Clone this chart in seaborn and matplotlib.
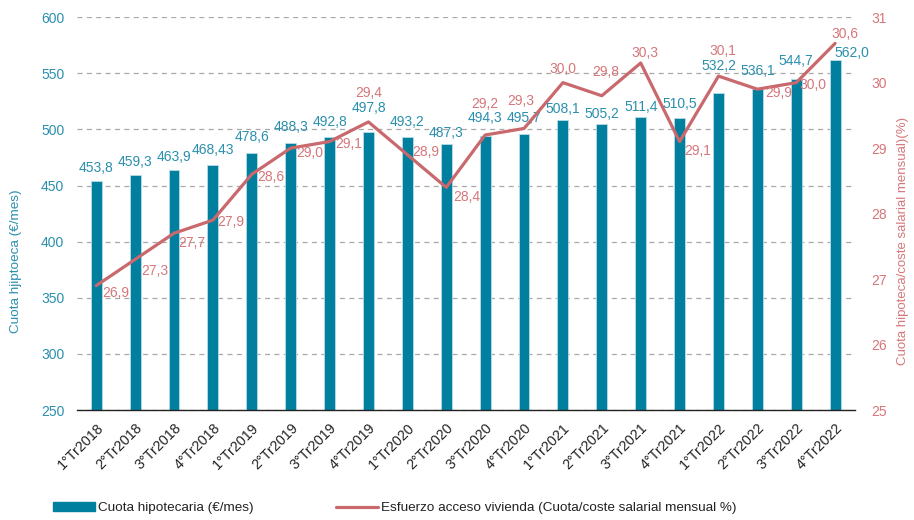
import numpy as np
import pandas as pd
import matplotlib
matplotlib.use("Agg")
import matplotlib.pyplot as plt
from matplotlib.patches import Patch
from matplotlib.lines import Line2D
import seaborn as sns

# Quarterly mortgage payment and affordability effort
quarters = ["1°Tr2018", "2°Tr2018", "3°Tr2018", "4°Tr2018",
            "1°Tr2019", "2°Tr2019", "3°Tr2019", "4°Tr2019",
            "1°Tr2020", "2°Tr2020", "3°Tr2020", "4°Tr2020",
            "1°Tr2021", "2°Tr2021", "3°Tr2021", "4°Tr2021",
            "1°Tr2022", "2°Tr2022", "3°Tr2022", "4°Tr2022"]
cuota = [453.8, 459.3, 463.9, 468.43, 478.6, 488.3, 492.8, 497.8,
         493.2, 487.3, 494.3, 495.7, 508.1, 505.2, 511.4, 510.5,
         532.2, 536.1, 544.7, 562.0]
cuota_labels = ["453,8", "459,3", "463,9", "468,43", "478,6", "488,3", "492,8", "497,8",
                "493,2", "487,3", "494,3", "495,7", "508,1", "505,2", "511,4", "510,5",
                "532,2", "536,1", "544,7", "562,0"]
esfuerzo = [26.9, 27.3, 27.7, 27.9, 28.6, 29.0, 29.1, 29.4,
            28.9, 28.4, 29.2, 29.3, 30.0, 29.8, 30.3, 29.1,
            30.1, 29.9, 30.0, 30.6]

BAR = "#007f9e"
BAR_EDGE = "#b9dce6"
LINE = "#c9686d"
TEAL_TXT = "#2a8fad"
PINK_TXT = "#d6767a"
GRID = "#a8a8a8"

sns.set_theme(style="white")
plt.rcParams["font.family"] = ["Liberation Sans", "DejaVu Sans"]

df = pd.DataFrame({"trimestre": quarters, "cuota": cuota, "esfuerzo": esfuerzo})
df["pos"] = np.arange(len(df))

fig = plt.figure(figsize=(9.14, 5.2), dpi=100)
ax = fig.add_axes([0.084, 0.2115, 0.851, 0.7555])

sns.barplot(data=df, x="trimestre", y="cuota", ax=ax, color=BAR,
            saturation=1, width=0.28, edgecolor=BAR_EDGE, linewidth=0.6, zorder=2)
ax.set_ylim(250, 600)
ax.set_xlim(-0.5, len(df) - 0.5)
ax.set_yticks(np.arange(250, 601, 50))
ax.yaxis.grid(True, color=GRID, linestyle=(0, (4, 3.5)), linewidth=0.9, zorder=0)
ax.set_axisbelow(True)
for s in ["top", "left", "right"]:
    ax.spines[s].set_visible(False)
ax.spines["bottom"].set_color("#222222")
ax.spines["bottom"].set_linewidth(1.0)
ax.tick_params(axis="y", colors=TEAL_TXT, labelsize=10, length=0, pad=9)
ax.tick_params(axis="x", length=0, pad=8)
ax.set_xticks(df["pos"])
ax.set_xticklabels(quarters, rotation=45, ha="right", rotation_mode="anchor",
                   fontsize=10.3, color="#222222")
ax.set_xlabel("")
ax.set_ylabel("Cuota hjiptoeca (€/mes)", color=TEAL_TXT, fontsize=9.7)
ax.yaxis.set_label_coords(-0.07, 0.38)

# bar value labels: vertical gap above the bar top and sideways shift (points)
bar_dy = [9.5, 9.5, 9.5, 11, 11.5, 11.5, 11.5, 17, 11, 8, 13, 12,
          8.5, 7, 7, 10, 19.5, 13, 13, 5]
bar_dx = [0] * 19 + [12]
for i, (v, t) in enumerate(zip(cuota, cuota_labels)):
    ax.annotate(t, (i, v), xytext=(bar_dx[i], bar_dy[i]),
                textcoords="offset points", ha="center", va="center",
                color=TEAL_TXT, fontsize=10, zorder=5)

ax2 = ax.twinx()
sns.lineplot(data=df, x="pos", y="esfuerzo", ax=ax2, color=LINE,
             linewidth=2.3, zorder=4)
ax2.set_ylim(25, 31)
ax2.set_yticks(np.arange(25, 32, 1))
ax2.set_xlim(-0.5, len(df) - 0.5)
for s in ["top", "left", "right", "bottom"]:
    ax2.spines[s].set_visible(False)
ax2.tick_params(axis="y", colors=PINK_TXT, labelsize=10, length=0, pad=12)
ax2.set_xlabel("")
ax2.set_ylabel("Cuota hipoteca/coste salarial mensual)(%)", color=PINK_TXT, fontsize=9.5)
ax2.yaxis.set_label_coords(1.055, 0.43)

# effort value labels: offsets (points) from each line vertex
offsets = [(14, -5), (14, -8), (13, -7), (13, -1.5), (14, -2), (14, -3.5), (14, -1.5), (0, 21),
           (13, 2), (15, -7), (0, 22), (-2, 19.5), (0, 9.5), (3, 17), (3, 7), (13, -6.5),
           (3, 18), (15, -3), (12, -1.5), (7, 7)]
for i, (v, off) in enumerate(zip(esfuerzo, offsets)):
    ax2.annotate(f"{v:.1f}".replace(".", ","), (i, v), xytext=off,
                 textcoords="offset points", ha="center", va="center",
                 color=PINK_TXT, fontsize=10, zorder=6)

handles = [Patch(facecolor=BAR, edgecolor=BAR),
           Line2D([0], [0], color=LINE, linewidth=2.3)]
labels = ["Cuota hipotecaria (€/mes)",
          "Esfuerzo acceso vivienda (Cuota/coste salarial mensual %)"]
fig.legend(handles, labels, loc="center left", bbox_to_anchor=(0.058, 0.023),
           ncol=2, frameon=False, fontsize=9.7, handlelength=3.1, handleheight=0.72,
           handletextpad=0.25, columnspacing=6.1, labelcolor="#222222",
           borderaxespad=0, borderpad=0)

fig.savefig("out.png", dpi=100)
